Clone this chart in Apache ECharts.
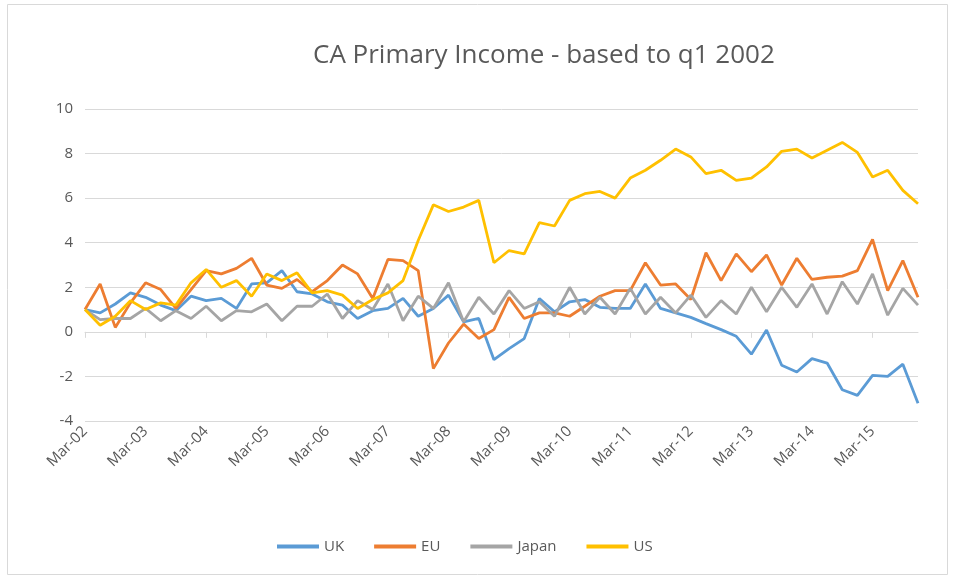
<!DOCTYPE html>
<html>
<head>
<meta charset="utf-8">
<script src="https://cdn.jsdelivr.net/npm/echarts@6/dist/echarts.min.js"></script>
<style>
  html, body { margin: 0; padding: 0; background: #fff; }
  #container { width: 955px; height: 578px; }
</style>
</head>
<body>
<div id="container"></div>
<script>
// quarters Mar-02 .. Dec-15
var quarters = [];
var months = ['Mar', 'Jun', 'Sep', 'Dec'];
for (var y = 2; y <= 15; y++) {
    for (var m = 0; m < 4; m++) {
        quarters.push(months[m] + '-' + (y < 10 ? '0' + y : y));
    }
}

var uk = [1.0, 0.85, 1.25, 1.75, 1.55, 1.2, 0.95, 1.6, 1.4, 1.5,
    1.05, 2.15, 2.2, 2.75, 1.8, 1.7, 1.35, 1.2, 0.6, 0.95,
    1.05, 1.5, 0.7, 1.05, 1.65, 0.45, 0.6, -1.25, -0.75, -0.3,
    1.5, 0.9, 1.35, 1.45, 1.1, 1.05, 1.05, 2.15, 1.05, 0.85,
    0.65, 0.37, 0.1, -0.2, -1.0, 0.08, -1.5, -1.8, -1.2, -1.4,
    -2.6, -2.85, -1.95, -2.0, -1.45, -3.2];

var eu = [1.0, 2.15, 0.2, 1.3, 2.2, 1.9, 1.05, 1.9, 2.75, 2.6,
    2.85, 3.3, 2.1, 1.95, 2.35, 1.8, 2.3, 3.0, 2.6, 1.5,
    3.25, 3.2, 2.75, -1.65, -0.5, 0.35, -0.3, 0.1, 1.55, 0.6,
    0.85, 0.85, 0.7, 1.15, 1.6, 1.85, 1.85, 3.1, 2.1, 2.15,
    1.45, 3.55, 2.3, 3.5, 2.7, 3.45, 2.1, 3.3, 2.35, 2.45,
    2.5, 2.75, 4.15, 1.85, 3.2, 1.55];

var japan = [1.0, 0.55, 0.6, 0.6, 1.05, 0.5, 0.95, 0.6, 1.15, 0.5,
    0.95, 0.9, 1.25, 0.5, 1.15, 1.15, 1.7, 0.6, 1.4, 1.0,
    2.15, 0.5, 1.6, 1.05, 2.2, 0.45, 1.55, 0.8, 1.85, 1.05,
    1.35, 0.7, 2.0, 0.8, 1.55, 0.8, 1.95, 0.8, 1.55, 0.85,
    1.65, 0.65, 1.4, 0.8, 2.0, 0.9, 2.0, 1.1, 2.15, 0.8,
    2.25, 1.25, 2.6, 0.75, 1.95, 1.2];

var us = [1.0, 0.3, 0.7, 1.4, 1.0, 1.3, 1.2, 2.2, 2.8, 2.0,
    2.3, 1.6, 2.6, 2.3, 2.65, 1.75, 1.85, 1.65, 1.05, 1.45,
    1.75, 2.3, 4.1, 5.7, 5.4, 5.6, 5.9, 3.1, 3.65, 3.5,
    4.9, 4.75, 5.9, 6.2, 6.3, 6.0, 6.9, 7.25, 7.7, 8.2,
    7.85, 7.1, 7.25, 6.8, 6.9, 7.4, 8.1, 8.2, 7.8, 8.15,
    8.5, 8.05, 6.95, 7.25, 6.35, 5.75];

var seriesNames = ['UK', 'EU', 'Japan', 'US'];
var colors = ['#5B9BD5', '#ED7D31', '#A5A5A5', '#FFC000'];
var fontFam = "'Open Sans', 'Noto Sans', sans-serif";

var dom = document.getElementById("container");
var myChart = echarts.init(dom);

function line(name, data) {
    return {
        name: name,
        type: 'line',
        data: data,
        showSymbol: false,
        symbol: 'none',
        lineStyle: { width: 2.8 },
        animation: false
    };
}

var option = {
    animation: false,
    color: colors,
    title: {
        text: 'CA Primary Income - based to q1 2002',
        left: 308,
        top: 38,
        textStyle: {
            fontFamily: fontFam,
            fontSize: 26,
            fontWeight: 'normal',
            color: '#595959'
        }
    },
    graphic: [{
        type: 'rect',
        shape: { x: 7.5, y: 4.5, width: 940, height: 570 },
        style: { fill: 'none', stroke: '#d9d9d9', lineWidth: 1 },
        silent: true
    }],
    legend: {
        bottom: 19,
        left: 272,
        icon: 'rect',
        itemWidth: 42,
        itemHeight: 4,
        itemGap: 30,
        textStyle: { fontFamily: fontFam, fontSize: 15, color: '#595959' },
        data: seriesNames
    },
    grid: {
        left: 85,
        right: 37,
        top: 109,
        bottom: 157
    },
    xAxis: {
        type: 'category',
        boundaryGap: false,
        data: quarters,
        axisLine: { lineStyle: { color: '#d9d9d9' } },
        axisTick: { interval: 3, length: 6, lineStyle: { color: '#d9d9d9' } },
        axisLabel: {
            interval: 3,
            rotate: 45,
            fontFamily: fontFam,
            fontSize: 15,
            color: '#595959',
            margin: 8
        },
        splitLine: { show: false }
    },
    yAxis: {
        type: 'value',
        min: -4,
        max: 10,
        interval: 2,
        axisLine: { show: false },
        axisTick: { show: false },
        axisLabel: { fontFamily: fontFam, fontSize: 15, color: '#595959', margin: 12 },
        splitLine: { lineStyle: { color: '#d9d9d9', width: 1 } }
    },
    series: [
        line('UK', uk),
        line('EU', eu),
        line('Japan', japan),
        line('US', us)
    ]
};

if (option && typeof option === "object") {
    myChart.setOption(option, true);
}
</script>
</body>
</html>
